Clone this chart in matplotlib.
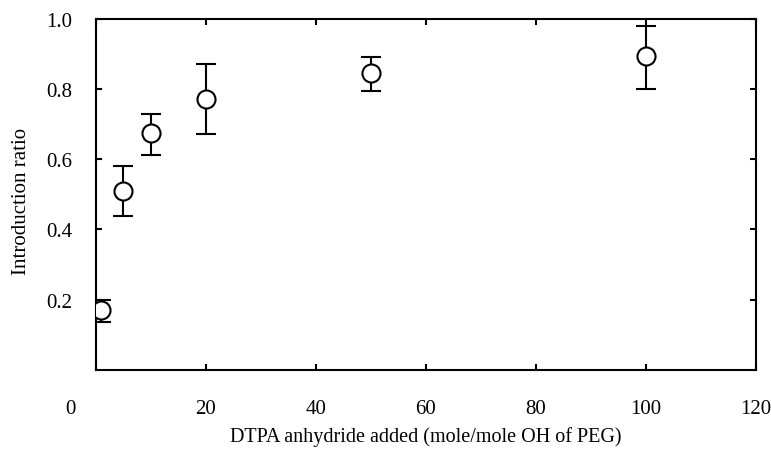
import matplotlib
matplotlib.use("Agg")
import matplotlib.pyplot as plt
from matplotlib.transforms import ScaledTranslation

# DTPA anhydride added vs introduction ratio
dtpa_added = [1, 5, 10, 20, 50, 100]
ratio = [0.171, 0.511, 0.675, 0.773, 0.845, 0.895]
err_low = [0.036, 0.074, 0.064, 0.102, 0.051, 0.095]
err_high = [0.029, 0.069, 0.053, 0.098, 0.046, 0.086]

x_ticks = [0, 20, 40, 60, 80, 100, 120]
y_ticks = [0.2, 0.4, 0.6, 0.8, 1.0]

plt.rcParams['font.family'] = ['Liberation Serif', 'DejaVu Serif']

fig = plt.figure(figsize=(7.71, 4.56), dpi=100)
ax = fig.add_axes([0.1245, 0.187, 0.856, 0.769])

ax.errorbar(dtpa_added, ratio, yerr=[err_low, err_high], fmt='o',
            color='black', markerfacecolor='white', markeredgecolor='black',
            markersize=13, markeredgewidth=1.5, elinewidth=1.5,
            capsize=7, capthick=1.5, zorder=3)

ax.set_xlim(0, 120)
ax.set_ylim(0, 1.0)
ax.set_xticks(x_ticks)
ax.set_xticklabels([str(v) for v in x_ticks])
ax.set_yticks(y_ticks)
ax.set_yticklabels(['%.1f' % v for v in y_ticks])

ax.tick_params(direction='in', length=4, width=1.5, labelsize=15,
               top=True, right=True)
ax.tick_params(axis='x', pad=21)
ax.tick_params(axis='y', pad=17)

# the "0" label sits to the left of the axis
lbl0 = ax.get_xticklabels()[0]
lbl0.set_transform(lbl0.get_transform() + ScaledTranslation(-26 / 100, 0, fig.dpi_scale_trans))

for s in ax.spines.values():
    s.set_linewidth(1.5)

ax.set_xlabel('DTPA anhydride added (mole/mole OH of PEG)', fontsize=14.5)
ax.set_ylabel('Introduction ratio', fontsize=15)
ax.xaxis.set_label_coords(0.5, -0.162)
ax.yaxis.set_label_coords(-0.098, 0.482)

fig.savefig('out.png', dpi=100)
